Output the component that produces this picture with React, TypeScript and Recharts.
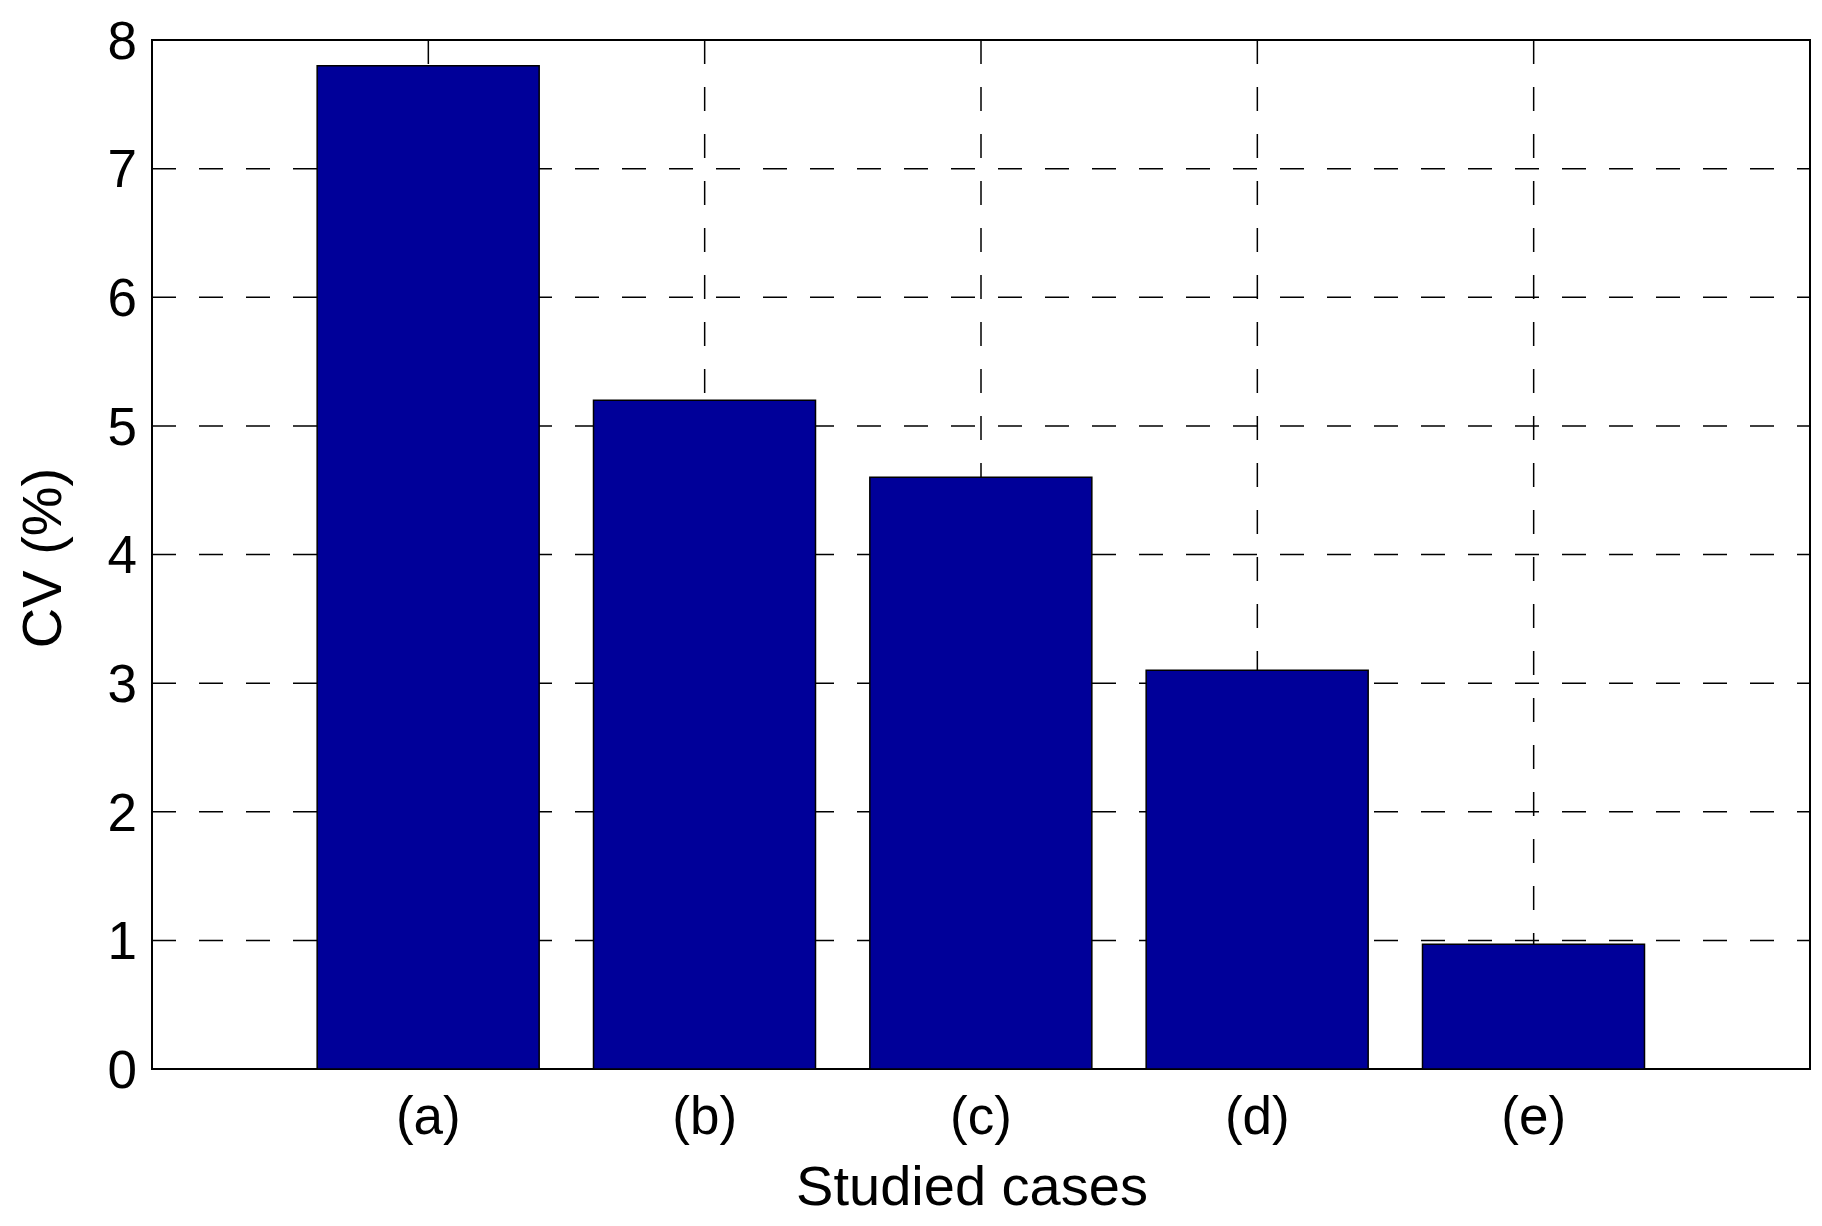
import { BarChart, Bar, XAxis, YAxis, CartesianGrid, ReferenceArea } from "recharts"

const cases = ["(a)", "(b)", "(c)", "(d)", "(e)"]
const cvValues = [7.8, 5.2, 4.6, 3.1, 0.97]
const yTicks = [0, 1, 2, 3, 4, 5, 6, 7, 8]
const xTicks = [1, 2, 3, 4, 5]

const data = cases.map((name, i) => ({ pos: i + 1, name, cv: cvValues[i] }))

const FONT = "'Liberation Sans', Arial, Helvetica, sans-serif"
const FS = 53
const TITLE_FS = 56

export default function App() {
  return (
    <div style={{ position: "absolute", left: 0, top: 0, width: 1822, height: 1226, background: "#fff" }}>
      <BarChart
        width={1822}
        height={1226}
        data={data}
        margin={{ top: 40, right: 12, bottom: 0, left: 0 }}
      >
        <CartesianGrid stroke="#000" strokeWidth={1.5} strokeDasharray="24 23" />
        <XAxis
          dataKey="pos"
          type="number"
          domain={[0, 6]}
          ticks={xTicks}
          tickFormatter={(v: number) => cases[v - 1] ?? ""}
          height={157}
          tickSize={0}
          tickLine={false}
          axisLine={false}
          tickMargin={27}
          tick={{ fill: "#000", fontSize: FS, fontFamily: FONT }}
          label={{
            content: () => (
              <text x={972} y={1205} textAnchor="middle" fill="#000" fontSize={TITLE_FS} fontFamily={FONT}>
                Studied cases
              </text>
            ),
          }}
        />
        <YAxis
          type="number"
          domain={[0, 8]}
          ticks={yTicks}
          width={152}
          tickSize={0}
          tickLine={false}
          axisLine={false}
          tickMargin={15}
          tick={{ fill: "#000", fontSize: FS, fontFamily: FONT }}
          label={{
            content: () => (
              <text
                x={61}
                y={558}
                transform="rotate(-90 61 558)"
                textAnchor="middle"
                fill="#000"
                fontSize={TITLE_FS}
                fontFamily={FONT}
              >
                CV (%)
              </text>
            ),
          }}
        />
        <Bar dataKey="cv" barSize={222} fill="#000099" stroke="#000" strokeWidth={1.5} isAnimationActive={false} />
        <ReferenceArea x1={0} x2={6} y1={0} y2={8} fill="none" stroke="#000" strokeWidth={2} ifOverflow="visible" />
      </BarChart>
    </div>
  )
}
